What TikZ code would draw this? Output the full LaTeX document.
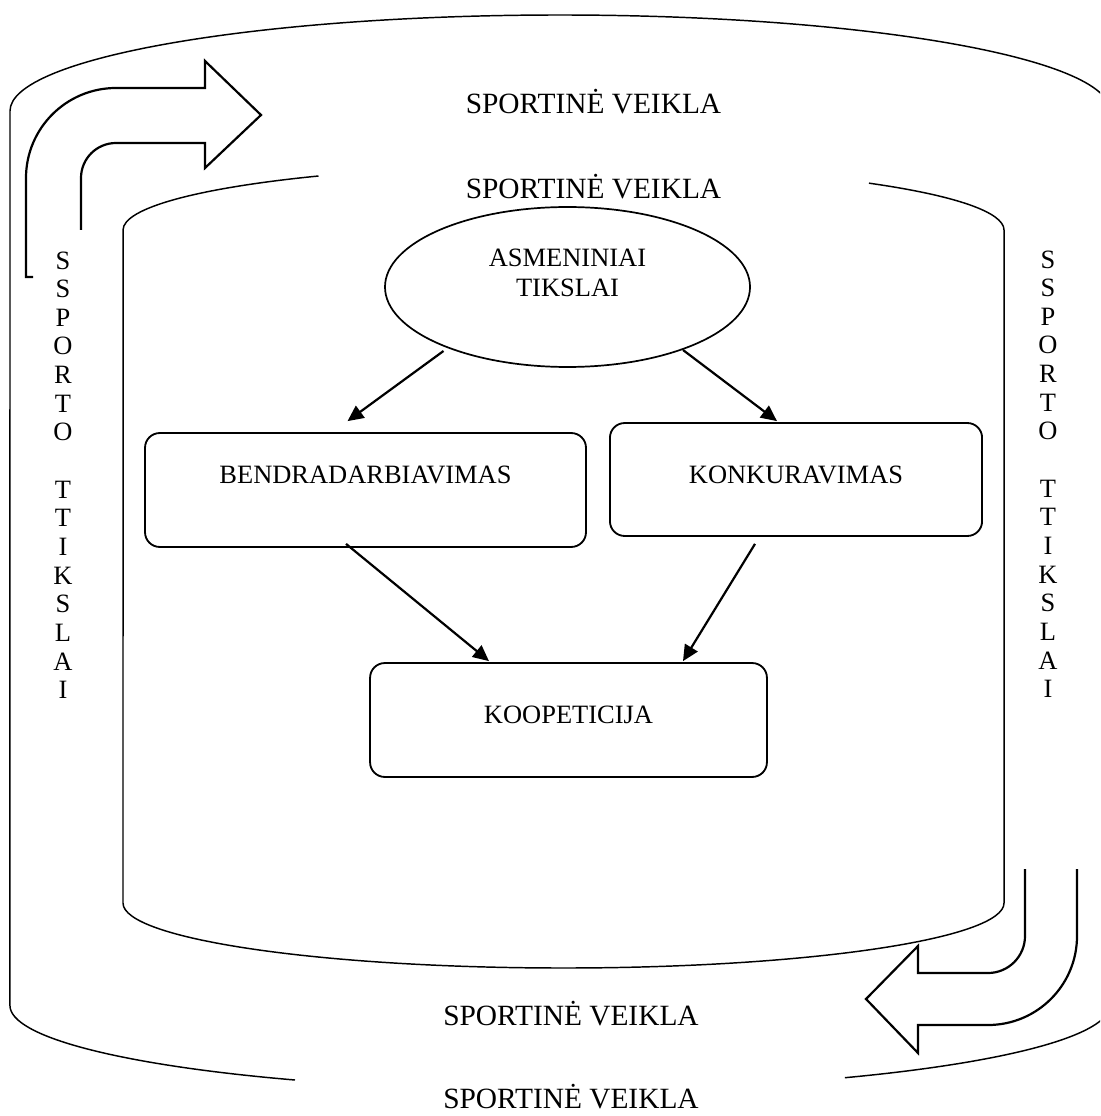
\documentclass[tikz,border=0pt]{standalone}
\usepackage{fontspec}
\setmainfont{Liberation Serif}
\usetikzlibrary{arrows.meta}
\usetikzlibrary{shapes.geometric}
\usetikzlibrary{calc}

\begin{document}
\begin{tikzpicture}[x=0.4082pt, y=-0.4082pt,
  frame/.style={line width=0.6pt},
  bigarrow/.style={line width=0.9pt, line join=miter},
  goal/.style={draw, line width=0.7pt, ellipse, inner sep=0pt, align=center,
    font=\fontsize{10.8}{12.2}\selectfont},
  box/.style={draw, line width=0.75pt, rounded corners=6pt, inner sep=0pt,
    font=\fontsize{10.8}{12}\selectfont, text height=7.15pt},
  link/.style={line width=0.9pt, -{Triangle[length=6.5pt,width=6pt]}},
  title/.style={font=\fontsize{12}{14}\selectfont, inner sep=0pt, text height=7.9pt, text depth=0pt},
  column/.style={font=\fontsize{10.8}{11.7}\selectfont, inner sep=0pt, align=center, anchor=north}]
\useasboundingbox (0,0) rectangle (1100,1116);
\clip (0,0) rectangle (1100,1116);

% outer and inner cylinders
\draw[frame] (295,1080) arc[start angle=118.8, end angle=180, x radius=550, y radius=85]
  -- (10,111) arc[start angle=180, end angle=360, x radius=550, y radius=96]
  -- (1110,1005) arc[start angle=0, end angle=58.8, x radius=550, y radius=85];
\draw[frame] (318.5,176) arc[start angle=236.2, end angle=180, x radius=440.5, y radius=65]
  -- (123,903) arc[start angle=180, end angle=0, x radius=440.5, y radius=65]
  -- (1004,230) arc[start angle=360, end angle=313.9, x radius=440.5, y radius=65];

% bent arrows
\draw[bigarrow] (33,277) -- (26,277) -- (26,178) arc[start angle=180, end angle=270, radius=90]
  -- (205,88) -- (205,61) -- (261,115) -- (205,168) -- (205,143)
  -- (116,143) arc[start angle=270, end angle=180, radius=35] -- (81,230);
\draw[bigarrow] (1025,869) -- (1025,936) arc[start angle=0, end angle=90, radius=37]
  -- (918,973) -- (918,946) -- (866,999) -- (918,1053) -- (918,1025)
  -- (988,1025) arc[start angle=90, end angle=0, radius=89] -- (1077,869);

\node[title] (sportA) at (593.5,104) {SPORTINĖ VEIKLA};
\node[title] (sportB) at (593.5,189) {SPORTINĖ VEIKLA};
\node[title] (sportC) at (571,1016) {SPORTINĖ VEIKLA};
\node[title] (sportD) at (571,1099) {SPORTINĖ VEIKLA};

\node[column] (leftcol) at (63,251) {S\\S\\P\\O\\R\\T\\O\\[11.7pt]T\\T\\I\\K\\S\\L\\A\\I};
\node[column] (rightcol) at (1048,250) {S\\S\\P\\O\\R\\T\\O\\[11.7pt]T\\T\\I\\K\\S\\L\\A\\I};

\node[goal, minimum width=149pt, minimum height=65.3pt, text depth=11.4pt] (aims) at (567.5,287) {ASMENINIAI\\TIKSLAI};
\node[box, minimum width=180pt, minimum height=46.5pt, text depth=12.2pt] (collab) at (365.5,490) {BENDRADARBIAVIMAS};
\node[box, minimum width=151.9pt, minimum height=46.1pt, text depth=3.7pt] (compete) at (796,479.5) {KONKURAVIMAS};
\node[box, minimum width=162pt, minimum height=46.5pt, text depth=4.1pt] (coopet) at (568.5,720) {KOOPETICIJA};

\draw[link] ($(aims.center)+(-124,64)$) -- ($(collab.north)+(-18,-11)$);
\draw[link] ($(aims.center)+(115.5,63)$) -- ($(compete.north)+(-19,-1)$);
\draw[link] ($(collab.south)+(-19.5,-4)$) -- ($(coopet.north)+(-79.5,-1)$);
\draw[link] ($(compete.south)+(-41,7)$) -- ($(coopet.north)+(114.5,-1)$);

\end{tikzpicture}
\end{document}
